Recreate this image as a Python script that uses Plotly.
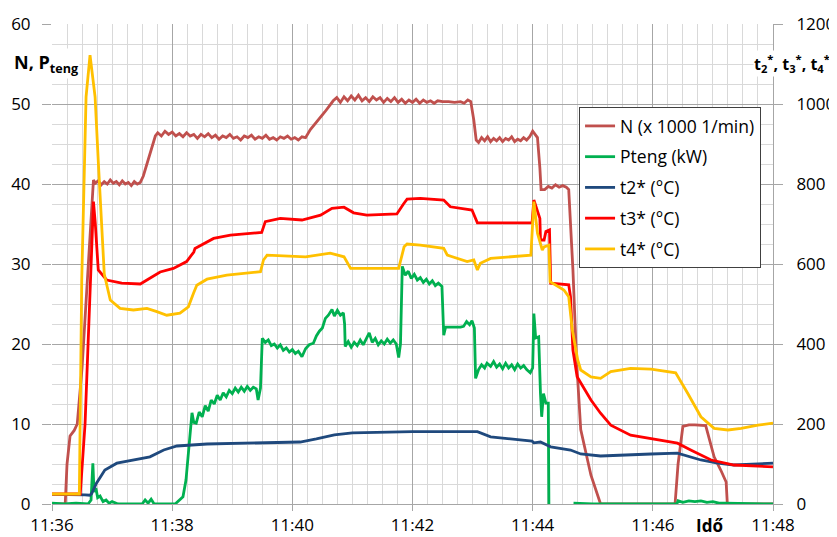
import pandas as pd
import plotly.graph_objects as go

# ---------------- data (minutes after 11:36, values) ----------------
n_min = [0, 0.22, 0.25, 0.3, 0.37, 0.42, 0.5, 0.58, 0.65, 0.69,
         0.72, 0.77, 0.82, 0.87, 0.92, 0.97, 1.02, 1.07, 1.12, 1.17, 1.22, 1.27, 1.32, 1.37, 1.42, 1.47,
         1.52, 1.58, 1.62, 1.67, 1.72,
         1.76, 1.82, 1.88, 1.94, 2.0, 2.06, 2.12, 2.18, 2.24, 2.3, 2.36, 2.42, 2.48, 2.54, 2.6, 2.66, 2.72,
         2.78, 2.84, 2.9, 2.96, 3.02, 3.08, 3.14, 3.2, 3.26, 3.32, 3.38, 3.44, 3.5, 3.56, 3.62, 3.68, 3.74,
         3.8, 3.86, 3.92, 3.98, 4.04, 4.1, 4.16, 4.22,
         4.3, 4.38, 4.46, 4.54, 4.62, 4.68,
         4.74, 4.8, 4.86, 4.92, 4.98, 5.04, 5.1, 5.16, 5.22, 5.28, 5.34, 5.4, 5.46, 5.52, 5.58, 5.64, 5.7,
         5.76, 5.82, 5.88, 5.94, 6.0, 6.06, 6.12, 6.18, 6.24, 6.3, 6.36, 6.42, 6.5, 6.6, 6.7, 6.8, 6.86,
         6.92, 6.97,
         7.02, 7.06,
         7.1, 7.15, 7.2, 7.25, 7.3, 7.35, 7.4, 7.45, 7.5, 7.55, 7.6, 7.65, 7.7, 7.75, 7.8, 7.85, 7.9, 7.95,
         8.0, 8.04, 8.08,
         8.12, 8.14,
         8.2, 8.26, 8.32, 8.38, 8.44, 8.5, 8.56, 8.6,
         8.67, 8.73, 8.8, 8.97, 9.13,
         10.37, 10.42, 10.5, 10.6, 10.7, 10.88, 11.02, 11.13, 11.22, 11.24, 12]
n_val = [0, 0, 5, 8.5, 9.2, 10, 17, 27, 35, 40.5,
         40.1, 40.4, 39.9, 40.3, 40.0, 40.5, 40.1, 40.3, 39.9, 40.4, 40.0, 40.2, 39.8, 40.3, 40.0, 40.2,
         41.0, 42.5, 43.5, 44.5, 46.0,
         46.4, 46.0, 46.6, 46.2, 46.5, 46.0, 46.3, 45.9, 46.4, 46.0, 46.2, 45.7, 46.2, 45.9, 46.3, 45.8, 46.1,
         45.6, 46.0, 45.8, 46.2, 45.7, 45.9, 45.5, 46.0, 45.8, 46.1, 45.6, 45.9, 45.7, 46.1, 45.6, 45.8, 45.5,
         45.9, 45.7, 46.0, 45.6, 45.8, 45.5, 45.9, 45.8,
         46.8, 47.5, 48.3, 49.0, 49.8, 50.4,
         50.8, 50.2, 50.9, 50.4, 51.0, 50.5, 51.1, 50.4, 50.8, 50.3, 50.9, 50.5, 50.8, 50.2, 50.7, 50.3, 50.8,
         50.2, 50.6, 50.1, 50.5, 50.2, 50.6, 50.1, 50.5, 50.2, 50.4, 50.1, 50.4, 50.3, 50.3, 50.2, 50.3, 50.1,
         50.5, 50.3,
         48.0, 45.5,
         45.2, 45.8, 45.4, 45.9, 45.3, 45.7, 45.4, 45.8, 45.3, 45.7, 45.5, 45.9, 45.3, 45.6, 45.4, 45.8, 45.5, 45.9,
         46.6, 46.2, 45.8,
         42.0, 39.3,
         39.3, 39.7, 39.5, 39.9, 39.6, 39.8, 39.6, 39.3,
         29.3, 18.0, 9.3, 3.6, 0,
         0, 5.0, 9.7, 9.9, 9.9, 9.8, 5.9, 4.25, 2.75, 0, 0]

p_min = [0, 0.2, 0.4, 0.6, 0.65, 0.68, 0.7, 0.73, 0.76, 0.8, 0.85, 0.9, 0.95, 1.0, 1.1, 1.5, 1.55, 1.6,
         1.65, 1.7, 2.05, 2.08, 2.18, 2.23, 2.28, 2.33, 2.36, 2.4, 2.45, 2.5, 2.55, 2.6, 2.65, 2.7, 2.75,
         2.8, 2.85, 2.9, 2.95, 3.0, 3.05, 3.1, 3.15, 3.2, 3.25, 3.3, 3.35, 3.4, 3.43, 3.47,
         3.5, 3.55, 3.6, 3.65, 3.7, 3.75, 3.8, 3.85, 3.9, 3.95, 4.0, 4.05, 4.1, 4.16, 4.22, 4.28, 4.35,
         4.4, 4.45, 4.5, 4.55, 4.6, 4.66, 4.7, 4.75, 4.8, 4.85, 4.87,
         4.88, 4.93, 4.98, 5.03, 5.08, 5.13, 5.18, 5.23, 5.28, 5.33, 5.38, 5.43, 5.48, 5.53, 5.58, 5.63,
         5.68, 5.73, 5.77, 5.8,
         5.83, 5.88, 5.93, 5.98, 6.03, 6.08, 6.13, 6.18, 6.23, 6.28, 6.33, 6.38, 6.43, 6.49,
         6.52, 6.55, 6.7, 6.8, 6.85, 6.9, 6.95, 6.99, 7.03,
         7.05, 7.1, 7.15, 7.2, 7.24, 7.3, 7.35, 7.4, 7.45, 7.5, 7.55, 7.6, 7.65, 7.7, 7.75, 7.8, 7.85,
         7.9, 7.96, 8.0,
         8.02, 8.05, 8.1, 8.13, 8.15, 8.18, 8.22, 8.26, 8.27,
         8.4,
         8.68, 9.0, 10.4, 10.42, 10.5, 10.6, 10.7, 10.8, 10.9, 11.0, 11.1, 11.2, 12.0]
p_val = [0.1, 0.0, 0.1, 0.0, 0.5, 5.1, 1.5, 2.0, 0.8, 1.0, 0.3, 0.5, 0.1, 0.3, 0.0, 0.0, 0.5, 0.1,
         0.6, 0.0, 0.0, 0.2, 0.9, 3.0, 6.75, 11.4, 10.2, 10.1, 11.5, 10.9, 12.3, 11.6, 13.0, 12.5, 13.6,
         13.0, 13.9, 13.4, 14.2, 13.8, 14.5, 14.0, 14.6, 14.1, 14.7, 14.2, 14.6, 14.4, 13.0, 14.5,
         20.7, 20.2, 20.5, 19.8, 20.0, 19.5, 19.9, 19.2, 19.5, 19.0, 19.3, 18.8, 19.1, 18.4, 19.4, 19.9, 20.1,
         21.0, 21.6, 22.0, 23.2, 23.6, 24.3, 23.5, 24.2, 23.6, 23.9, 22.5,
         19.7, 20.3, 19.6, 20.2, 19.8, 20.5, 19.9, 20.6, 21.4, 20.2, 20.7, 19.9, 20.4, 20.0, 20.6, 20.1,
         20.5, 20.0, 18.3, 20.0,
         29.7, 28.6, 29.1, 28.2, 28.7, 28.0, 28.3, 27.7, 28.1, 27.5, 27.9, 27.3, 27.6, 27.2,
         21.1, 22.1, 22.1, 22.1, 22.2, 22.8, 22.4, 22.9, 22.0,
         15.7, 16.8, 17.4, 17.0, 17.6, 17.2, 17.8, 17.1, 17.5, 16.9, 17.6, 17.0, 17.4, 16.8, 17.5, 17.0, 17.3,
         16.8, 16.4, 17.0,
         23.8, 20.75, 20.9, 13.8, 10.9, 13.8, 12.6, 12.6, 0,
         None,
         0.1, 0.0, 0.0, 0.4, 0.2, 0.4, 0.3, 0.4, 0.2, 0.3, 0.1, 0.1, 0.0]

t2_min = [0, 0.3, 0.55, 0.63, 0.66, 0.74, 0.88, 1.08, 1.41, 1.63, 1.86, 2.08, 2.58, 3.63, 4.13, 4.4,
          4.7, 5.0, 5.5, 6.0, 6.5, 7.08, 7.3, 7.68, 7.99, 8.02, 8.13, 8.3, 8.63, 8.8, 9.13, 9.97, 10.41,
          10.8, 11.08, 11.35, 12]
t2_val = [24, 24, 23, 22, 26, 52, 85, 102, 112, 118, 135, 145, 150, 153, 155, 163,
          173, 178, 180, 181, 181, 181, 168, 162, 157, 153, 155, 143, 135, 125, 120, 125, 127,
          110, 102, 97.5, 102]

t3_min = [0, 0.47, 0.55, 0.62, 0.66, 0.69, 0.72, 0.77, 0.91, 1.16, 1.47, 1.58, 1.8, 2.02, 2.24, 2.36,
          2.38, 2.69, 2.97, 3.49, 3.55, 3.8, 4.16, 4.47, 4.66, 4.86, 5.02, 5.24, 5.74, 5.85, 5.91, 6.13,
          6.52, 6.63, 6.99, 7.08, 7.99, 8.02, 8.07, 8.12, 8.13, 8.19, 8.22, 8.28, 8.3, 8.6, 8.63, 8.67,
          8.74, 8.8, 8.97, 9.13, 9.3, 9.63, 9.97, 10.41, 10.63, 10.97, 11.35, 12]
t3_val = [25, 25, 200, 450, 635, 756, 702, 585, 560, 552, 550, 560, 580, 589, 606, 630,
          639, 664, 672, 679, 706, 714, 710, 722, 739, 742, 728, 722, 725, 750, 762, 764,
          760, 743, 735, 703, 703, 760, 739, 714, 660, 660, 681, 685, 552, 548, 518, 385,
          318, 302, 260, 227, 197, 172, 164, 152, 135, 110, 97.5, 93]

t4_min = [0, 0.455, 0.495, 0.567, 0.633, 0.717, 0.772, 0.828, 0.87, 0.97, 1.133, 1.355, 1.52, 1.58,
          1.745, 1.91, 2.13, 2.27, 2.355, 2.41, 2.58, 2.91, 3.47, 3.52, 3.58, 4.22, 4.63, 4.86, 4.97,
          5.77, 5.86, 5.91, 6.13, 6.52, 6.58, 6.91, 7.02, 7.08, 7.13, 7.3, 7.97, 8.02, 8.08, 8.16, 8.19,
          8.27, 8.29, 8.52, 8.6, 8.66, 8.75, 8.8, 8.97, 9.13, 9.3, 9.63, 9.97, 10.38, 10.58, 10.8,
          11.02, 11.25, 11.47, 11.75, 12]
t4_val = [25, 25, 560, 1018, 1122, 1018, 852, 685, 575, 510, 489, 485, 487, 489,
          481, 472, 477, 493, 527, 547, 562, 572, 581, 610, 622, 618, 627, 618, 589,
          589, 643, 650, 647, 639, 622, 606, 610, 585, 602, 614, 622, 756, 677, 635, 643,
          647, 556, 535, 518, 435, 360, 335, 318, 314, 331, 339, 337, 328, 277, 218,
          189, 185, 189, 197, 202]

series_names = ["N (x 1000 1/min)", "Pteng (kW)", "t2* (°C)", "t3* (°C)", "t4* (°C)"]
series_colors = ["#C0504D", "#00B050", "#1F497D", "#FF0000", "#FFC000"]

left_ticks = [0, 10, 20, 30, 40, 50, 60]
right_ticks = [0, 200, 400, 600, 800, 1000, 1200]
x_ticks = ["11:36", "11:38", "11:40", "11:42", "11:44", "11:46", "11:48"]

# ---------------- figure ----------------
base = pd.Timestamp("2000-01-01 11:36:00")


def to_time(mins):
    return [base + pd.Timedelta(minutes=m) for m in mins]


FONT = "Open Sans"
fig = go.Figure()
data_sets = [(n_min, n_val, "y"), (p_min, p_val, "y"),
             (t2_min, t2_val, "y2"), (t3_min, t3_val, "y2"), (t4_min, t4_val, "y2")]
for i, (mins, vals, ax) in enumerate(data_sets):
    fig.add_trace(go.Scatter(
        x=to_time(mins), y=vals, mode="lines", name=series_names[i], yaxis=ax,
        line=dict(color=series_colors[i], width=2.8), legendgroup=str(i),
        connectgaps=False))

tickvals_x = [base + pd.Timedelta(minutes=2 * k) for k in range(7)]

# page body has an 8px margin: figure starts at (8, 8) and ends at the window edge
fig.update_layout(
    width=829, height=529,
    margin=dict(l=44, r=64, t=16, b=33, autoexpand=False),
    paper_bgcolor="white", plot_bgcolor="white",
    font=dict(family=FONT, size=17, color="black"),
    showlegend=True,
    legend=dict(x=0.731, y=0.827, xanchor="left", yanchor="top",
                bgcolor="white", bordercolor="#404040", borderwidth=1,
                font=dict(family=FONT, size=17.5, color="black"),
                tracegroupgap=5, traceorder="grouped"),
    xaxis=dict(
        type="date", range=[base, base + pd.Timedelta(minutes=12)], automargin=False,
        tickvals=tickvals_x, ticktext=x_ticks,
        showgrid=True, gridcolor="#a6a6a6", gridwidth=1,
        ticks="outside", ticklen=6, tickcolor="#a6a6a6",
        showline=True, linecolor="#a6a6a6", zeroline=False,
        tickfont=dict(size=17), ticklabelstandoff=0,
        minor=dict(dtick=15000, tick0=base, showgrid=True, gridcolor="#d9d9d9", gridwidth=1),
    ),
    yaxis=dict(
        range=[0, 60], tickvals=left_ticks, showgrid=True, gridcolor="#a6a6a6", automargin=False,
        ticks="outside", ticklen=9, tickcolor="#a6a6a6", zeroline=False,
        showline=False, tickfont=dict(size=17), ticklabelstandoff=8,
        minor=dict(dtick=2.5, showgrid=True, gridcolor="#d9d9d9", gridwidth=1),
    ),
    yaxis2=dict(
        range=[0, 1200], tickvals=right_ticks, overlaying="y", side="right", automargin=False,
        showgrid=False, zeroline=False, ticks="outside", ticklen=9, tickcolor="#a6a6a6",
        showline=True, linecolor="#a6a6a6", tickfont=dict(size=17), ticklabelstandoff=10,
    ),
)

fig.add_annotation(xref="paper", yref="paper", x=-0.056, y=0.918, xanchor="left", yanchor="middle",
                   text="<b>N, P<sub>teng</sub></b>", showarrow=False, bgcolor="white",
                   font=dict(family=FONT, size=18, color="black"))
fig.add_annotation(xref="paper", yref="paper", x=1.0805, y=0.918, xanchor="right", yanchor="middle",
                   text="<b>t<sub>2</sub><sup>*</sup>, t<sub>3</sub><sup>*</sup>, t<sub>4</sub><sup>*</sup></b>",
                   showarrow=False, bgcolor="white", borderpad=0,
                   font=dict(family=FONT, size=16, color="black"))
fig.add_annotation(xref="paper", yref="paper", x=0.912, y=-0.044, xanchor="center", yanchor="middle",
                   text="<b>Idő</b>", showarrow=False,
                   font=dict(family=FONT, size=17, color="black"))

fig.write_html("out.html")
